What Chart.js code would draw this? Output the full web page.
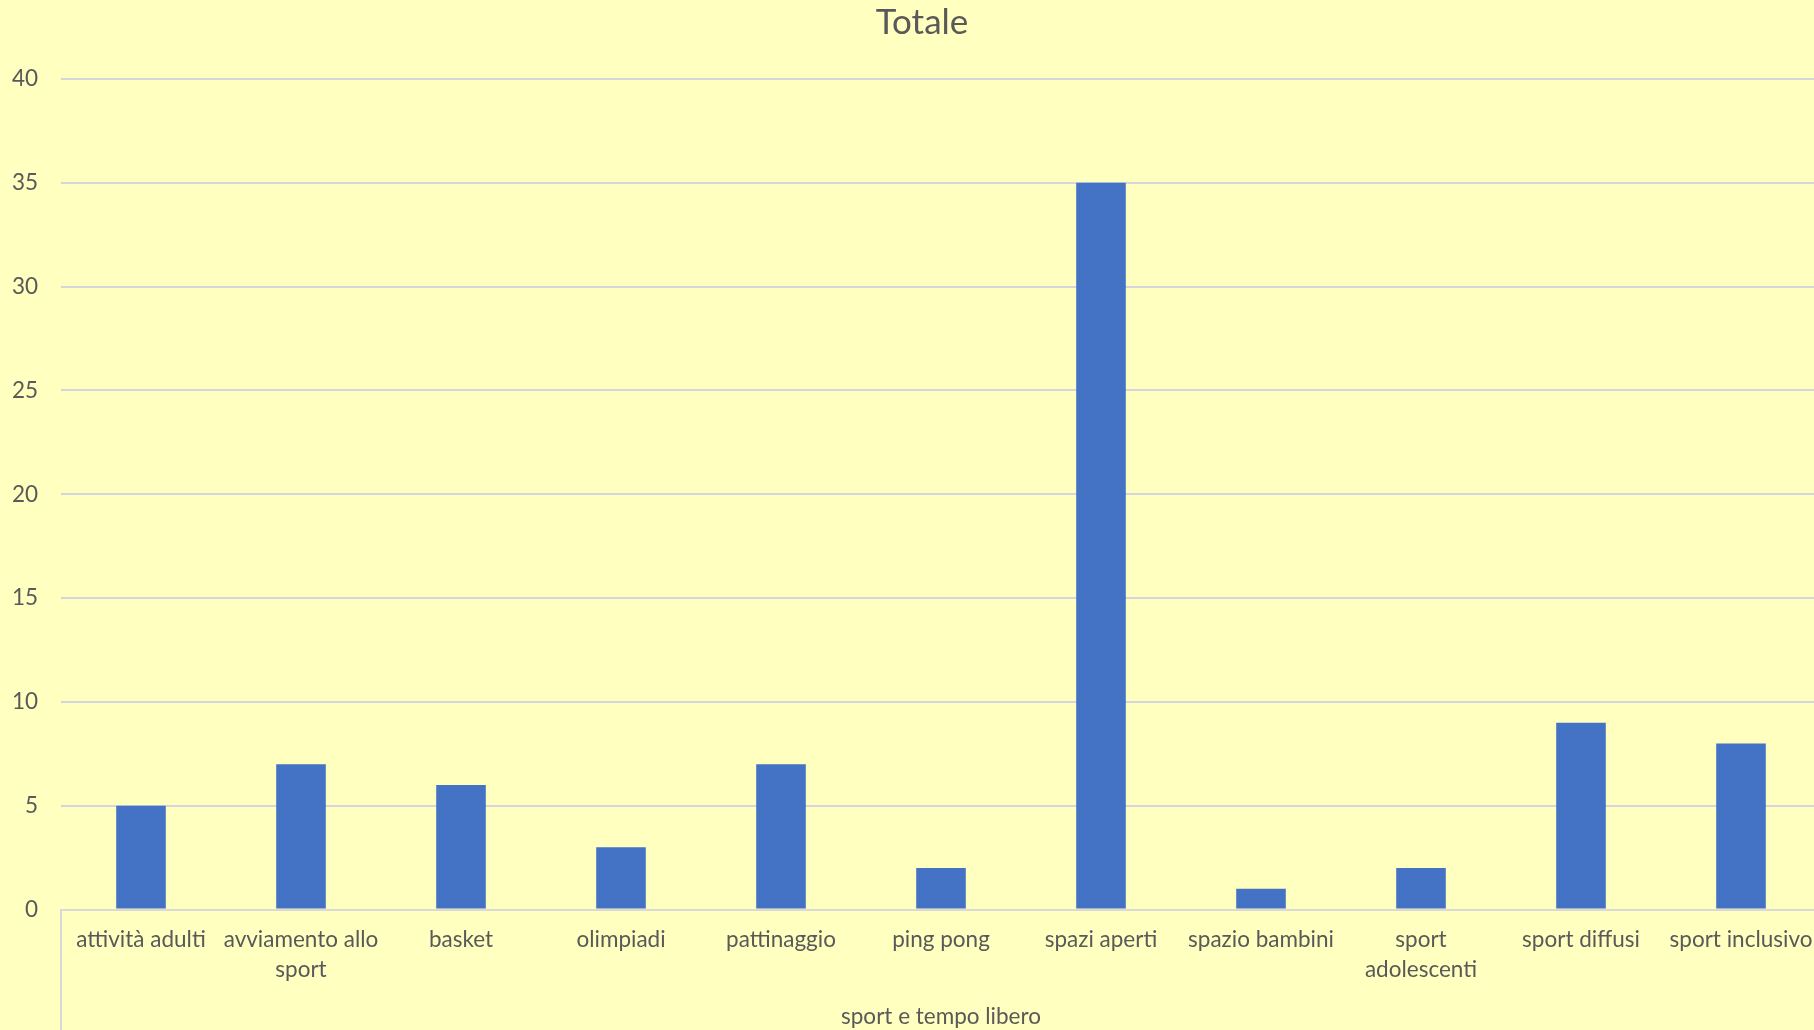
<!DOCTYPE html>
<html>
<head>
<meta charset="utf-8">
<script src="https://cdn.jsdelivr.net/npm/chart.js@4"></script>
<style>
  html, body { margin: 0; padding: 0; overflow: hidden; background: #FFFFC0; }
  #wrap { width: 1844px; height: 1030px; }
</style>
</head>
<body>
<div id="wrap"><canvas id="chart"></canvas></div>
<script>
const categories = [
    "attività adulti", ["avviamento allo", "sport"], "basket", "olimpiadi",
    "pattinaggio", "ping pong", "spazi aperti", "spazio bambini",
    ["sport", "adolescenti"], "sport diffusi", "sport inclusivo"
];
const totals = [5, 7, 6, 3, 7, 2, 35, 1, 2, 9, 8];
const groupLabel = "sport e tempo libero";
const chartTitle = "Totale";

const textColor = "#595959";
const gridColor = "#D5D5DD";
const axisColor = "#D9D9D9";
const fontName = "Lato, 'Open Sans', sans-serif";

// left border of the outer category group, drawn down to the bottom
// + title centred on the whole canvas instead of the padded box
const groupBorder = {
    id: "groupBorder",
    afterLayout(chart) {
        if (chart.titleBlock) {
            chart.titleBlock.left = 0;
            chart.titleBlock.right = chart.width;
        }
    },
    afterDraw(chart) {
        let ctx = chart.ctx;
        let x = chart.chartArea.left;
        ctx.save();
        ctx.strokeStyle = axisColor;
        ctx.lineWidth = 2;
        ctx.beginPath();
        ctx.moveTo(x, chart.chartArea.bottom);
        ctx.lineTo(x, chart.height);
        ctx.stroke();
        ctx.restore();
    }
};

new Chart(document.getElementById("chart"), {
    type: "bar",
    data: {
        labels: categories,
        datasets: [{
            label: chartTitle,
            data: totals,
            backgroundColor: "#4472C4",
            categoryPercentage: 1,
            barPercentage: 0.31
        }]
    },
    options: {
        responsive: true,
        maintainAspectRatio: false,
        animation: false,
        layout: { padding: { left: 0, right: 23, top: 0, bottom: 0 } },
        plugins: {
            legend: { display: false },
            tooltip: { enabled: false },
            title: {
                display: true,
                text: chartTitle,
                color: textColor,
                font: { family: fontName, size: 35, weight: "normal" },
                padding: { top: 2, bottom: 35 }
            }
        },
        scales: {
            x: {
                grid: { display: false, drawTicks: false },
                border: { color: axisColor, width: 2 },
                ticks: {
                    color: textColor,
                    font: { family: fontName, size: 22.5, lineHeight: 1.3 },
                    padding: 16,
                    maxRotation: 0,
                    autoSkip: false
                },
                title: {
                    display: true,
                    text: groupLabel,
                    color: textColor,
                    font: { family: fontName, size: 22.5, lineHeight: 1.2 },
                    padding: { top: 3, bottom: 0 }
                }
            },
            y: {
                min: 0,
                max: 40,
                afterFit(scale) { scale.width = 61; },
                ticks: {
                    stepSize: 5,
                    color: textColor,
                    font: { family: fontName, size: 22.5 },
                    padding: 23
                },
                grid: { color: gridColor, lineWidth: 2, drawTicks: false },
                border: { display: false }
            }
        }
    },
    plugins: [groupBorder]
});
</script>
</body>
</html>
